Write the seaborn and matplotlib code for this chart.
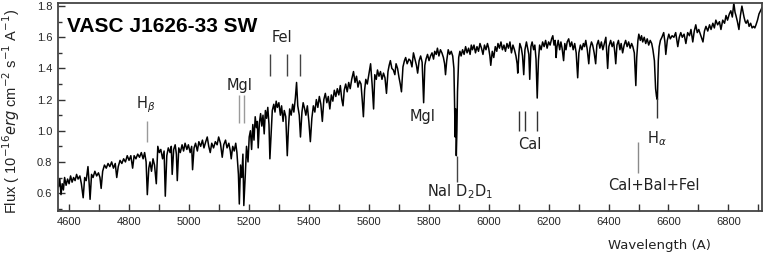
"""Optical spectrum of VASC J1626-33 SW with line identifications."""

import matplotlib

matplotlib.use("Agg")
import matplotlib.pyplot as plt
import matplotlib.ticker as ticker
import pandas as pd
import seaborn as sns

# spectrum (wavelength in Angstrom, flux in 1e-16 erg/cm2/s/A)
wavelength = [
    4565, 4569, 4573, 4577, 4581, 4585, 4590, 4595, 4600, 4605, 4610, 4615, 4620, 4625, 4630, 4636,
    4641, 4647, 4652, 4657, 4663, 4667, 4670, 4675, 4680, 4686, 4692, 4698, 4703, 4707, 4712, 4718,
    4724, 4730, 4736, 4742, 4748, 4754, 4759, 4764, 4770, 4776, 4782, 4788, 4794, 4800, 4806, 4812,
    4817, 4823, 4829, 4835, 4841, 4847, 4852, 4857, 4861, 4866, 4870, 4875, 4880, 4885, 4891, 4896,
    4901, 4906, 4912, 4917, 4921, 4926, 4931, 4937, 4941, 4944, 4949, 4954, 4958, 4961, 4966, 4971,
    4977, 4982, 4987, 4993, 4998, 5004, 5009, 5012, 5017, 5022, 5028, 5033, 5039, 5045, 5050, 5056,
    5061, 5066, 5071, 5076, 5082, 5088, 5094, 5099, 5105, 5111, 5116, 5122, 5127, 5133, 5138, 5141,
    5146, 5151, 5156, 5160, 5165, 5168, 5172, 5176, 5180, 5183, 5188, 5192, 5197, 5201, 5205, 5209,
    5213, 5217, 5221, 5225, 5228, 5231, 5235, 5239, 5243, 5247, 5251, 5255, 5259, 5263, 5267, 5270,
    5274, 5278, 5283, 5287, 5291, 5295, 5300, 5305, 5309, 5314, 5318, 5323, 5328, 5332, 5336, 5341,
    5346, 5350, 5355, 5359, 5363, 5368, 5372, 5377, 5381, 5386, 5390, 5395, 5400, 5405, 5410, 5415,
    5420, 5425, 5430, 5435, 5440, 5445, 5450, 5455, 5460, 5465, 5470, 5475, 5480, 5485, 5490, 5495,
    5500, 5505, 5510, 5514, 5518, 5523, 5528, 5533, 5538, 5543, 5549, 5554, 5559, 5564, 5569, 5574,
    5578, 5582, 5586, 5590, 5595, 5600, 5606, 5611, 5616, 5620, 5625, 5629, 5634, 5639, 5644, 5649,
    5654, 5659, 5664, 5668, 5672, 5677, 5682, 5687, 5691, 5696, 5701, 5705, 5709, 5714, 5719, 5723,
    5728, 5734, 5739, 5744, 5749, 5754, 5759, 5763, 5768, 5773, 5778, 5783, 5787, 5791, 5796, 5801,
    5806, 5811, 5816, 5820, 5825, 5829, 5834, 5839, 5844, 5849, 5853, 5856, 5860, 5865, 5870, 5875,
    5880, 5884, 5886, 5888, 5890, 5892, 5894, 5896, 5900, 5904, 5908, 5913, 5918, 5923, 5928, 5933,
    5938, 5942, 5946, 5951, 5956, 5961, 5966, 5971, 5976, 5981, 5986, 5991, 5996, 6000, 6004, 6007,
    6012, 6017, 6022, 6027, 6031, 6036, 6041, 6046, 6051, 6056, 6061, 6066, 6071, 6076, 6081, 6086,
    6091, 6095, 6097, 6101, 6104, 6109, 6113, 6117, 6121, 6126, 6130, 6134, 6137, 6141, 6145, 6150,
    6154, 6158, 6162, 6166, 6170, 6175, 6180, 6185, 6190, 6195, 6200, 6205, 6210, 6214, 6218, 6222,
    6225, 6228, 6232, 6237, 6241, 6245, 6250, 6254, 6258, 6262, 6267, 6272, 6277, 6282, 6287, 6292,
    6297, 6301, 6306, 6311, 6316, 6320, 6324, 6329, 6334, 6338, 6343, 6347, 6352, 6357, 6361, 6366,
    6371, 6376, 6381, 6386, 6391, 6394, 6397, 6401, 6407, 6412, 6417, 6421, 6424, 6428, 6433, 6438,
    6442, 6447, 6452, 6457, 6462, 6467, 6472, 6477, 6481, 6486, 6489, 6491, 6494, 6498, 6501, 6506,
    6510, 6514, 6519, 6524, 6529, 6534, 6539, 6544, 6548, 6553, 6557, 6560, 6563, 6566, 6569, 6573,
    6578, 6584, 6588, 6591, 6596, 6601, 6606, 6612, 6618, 6624, 6628, 6631, 6636, 6641, 6646, 6652,
    6658, 6664, 6670, 6675, 6681, 6686, 6691, 6696, 6701, 6708, 6715, 6720, 6725, 6731, 6737, 6742,
    6748, 6753, 6758, 6764, 6770, 6775, 6781, 6787, 6792, 6797, 6803, 6808, 6813, 6818, 6822, 6825,
    6830, 6835, 6840, 6845, 6849, 6852, 6856, 6859, 6864, 6869, 6874, 6879, 6884, 6888, 6892, 6897,
    6902, 6907, 6912,
]
flux = [
    0.64, 0.69, 0.59, 0.66, 0.62, 0.70, 0.65, 0.69, 0.66, 0.71, 0.67, 0.70, 0.68, 0.72, 0.69, 0.71,
    0.66, 0.57, 0.70, 0.68, 0.77, 0.66, 0.56, 0.72, 0.70, 0.74, 0.71, 0.73, 0.70, 0.63, 0.74, 0.78,
    0.76, 0.79, 0.77, 0.80, 0.76, 0.79, 0.70, 0.77, 0.81, 0.79, 0.82, 0.80, 0.84, 0.81, 0.84, 0.76,
    0.84, 0.82, 0.85, 0.83, 0.86, 0.82, 0.86, 0.80, 0.59, 0.76, 0.80, 0.74, 0.82, 0.78, 0.66, 0.90,
    0.86, 0.88, 0.82, 0.87, 0.58, 0.84, 0.89, 0.86, 0.90, 0.72, 0.88, 0.91, 0.85, 0.68, 0.89, 0.86,
    0.91, 0.87, 0.92, 0.88, 0.91, 0.86, 0.90, 0.75, 0.89, 0.92, 0.87, 0.93, 0.90, 0.94, 0.89, 0.93,
    0.96, 0.90, 0.86, 0.92, 0.89, 0.93, 0.91, 0.96, 0.92, 0.83, 0.91, 0.94, 0.89, 0.92, 0.87, 0.82,
    0.90, 0.87, 0.92, 0.86, 0.72, 0.53, 0.78, 0.70, 0.85, 0.52, 0.72, 0.90, 0.80, 0.96, 1.00, 0.88,
    1.04, 0.94, 1.09, 1.02, 1.06, 0.89, 1.05, 1.11, 1.03, 1.10, 0.98, 1.13, 1.08, 1.15, 1.04, 0.82,
    0.98, 1.13, 1.17, 1.12, 1.19, 1.15, 1.18, 1.10, 1.16, 1.06, 1.13, 1.09, 0.84, 1.02, 1.14, 1.10,
    1.17, 1.12, 1.21, 1.31, 1.16, 1.10, 0.96, 1.12, 1.18, 1.14, 1.10, 1.16, 1.06, 0.93, 1.08, 1.16,
    1.12, 1.20, 1.15, 1.22, 1.17, 1.06, 1.20, 1.24, 1.18, 1.22, 1.14, 1.23, 1.19, 1.26, 1.22, 1.27,
    1.23, 1.29, 1.20, 1.16, 1.26, 1.30, 1.25, 1.31, 1.27, 1.33, 1.38, 1.31, 1.35, 1.28, 1.32, 1.30,
    1.20, 1.09, 1.26, 1.33, 1.30, 1.36, 1.43, 1.30, 1.14, 1.36, 1.33, 1.39, 1.35, 1.38, 1.33, 1.37,
    1.34, 1.24, 1.38, 1.42, 1.45, 1.40, 1.39, 1.36, 1.43, 1.40, 1.34, 1.30, 1.25, 1.41, 1.45, 1.47,
    1.43, 1.46, 1.45, 1.41, 1.50, 1.46, 1.42, 1.37, 1.45, 1.48, 1.44, 1.18, 1.42, 1.46, 1.49, 1.45,
    1.48, 1.50, 1.46, 1.51, 1.49, 1.53, 1.48, 1.52, 1.50, 1.47, 1.43, 1.36, 1.45, 1.52, 1.49, 1.51,
    1.48, 1.40, 1.20, 0.96, 1.14, 0.84, 1.00, 1.25, 1.47, 1.51, 1.48, 1.52, 1.49, 1.54, 1.50, 1.53,
    1.49, 1.55, 1.52, 1.55, 1.50, 1.54, 1.51, 1.56, 1.53, 1.49, 1.55, 1.52, 1.56, 1.53, 1.48, 1.42,
    1.51, 1.47, 1.54, 1.51, 1.56, 1.53, 1.57, 1.52, 1.55, 1.51, 1.56, 1.53, 1.57, 1.50, 1.55, 1.52,
    1.48, 1.43, 1.37, 1.50, 1.56, 1.53, 1.48, 1.36, 1.52, 1.57, 1.53, 1.49, 1.33, 1.54, 1.57, 1.52,
    1.55, 1.46, 1.21, 1.45, 1.55, 1.52, 1.57, 1.54, 1.58, 1.53, 1.57, 1.55, 1.59, 1.61, 1.55, 1.58,
    1.47, 1.54, 1.58, 1.52, 1.57, 1.53, 1.45, 1.56, 1.52, 1.57, 1.59, 1.54, 1.57, 1.52, 1.56, 1.50,
    1.34, 1.50, 1.55, 1.52, 1.56, 1.54, 1.58, 1.52, 1.43, 1.53, 1.57, 1.55, 1.50, 1.43, 1.55, 1.58,
    1.53, 1.57, 1.52, 1.56, 1.60, 1.50, 1.40, 1.54, 1.58, 1.54, 1.57, 1.50, 1.43, 1.55, 1.58, 1.52,
    1.56, 1.50, 1.55, 1.58, 1.54, 1.57, 1.53, 1.56, 1.54, 1.50, 1.38, 1.29, 1.47, 1.58, 1.62, 1.58,
    1.61, 1.57, 1.60, 1.56, 1.59, 1.55, 1.58, 1.56, 1.52, 1.45, 1.27, 1.22, 1.20, 1.45, 1.54, 1.58,
    1.60, 1.63, 1.57, 1.49, 1.58, 1.62, 1.59, 1.61, 1.60, 1.63, 1.58, 1.54, 1.60, 1.63, 1.60, 1.62,
    1.56, 1.63, 1.61, 1.65, 1.57, 1.64, 1.68, 1.63, 1.65, 1.61, 1.57, 1.64, 1.67, 1.64, 1.68, 1.65,
    1.69, 1.66, 1.71, 1.68, 1.70, 1.65, 1.71, 1.69, 1.74, 1.71, 1.75, 1.77, 1.73, 1.82, 1.76, 1.74,
    1.70, 1.65, 1.74, 1.80, 1.76, 1.73, 1.70, 1.69, 1.71, 1.67, 1.69, 1.66, 1.67, 1.66, 1.68, 1.71,
    1.75, 1.77, 1.79,
]

# line identifications: label text and the wavelengths of their marker ticks
line_labels = ["H$_\\beta$", "MgI", "FeI", "MgI", "NaI D$_2$D$_1$", "CaI", "H$_\\alpha$", "CaI+BaI+FeI"]
line_marks = [[4861], [5167, 5183], [5270, 5328, 5372], [], [5893], [6102, 6122, 6162], [6561], [6497]]

df = pd.DataFrame({"wavelength": wavelength, "flux": flux})

sns.set_style("ticks")
plt.rcParams["font.family"] = ["Liberation Sans", "DejaVu Sans"]

fig = plt.figure(figsize=(7.65, 2.54), dpi=100)
ax = fig.add_axes([58 / 765, 43 / 254, 704 / 765, 208 / 254])

sns.lineplot(data=df, x="wavelength", y="flux", ax=ax, color="black", linewidth=1.1,
             estimator=None, sort=False)

ax.set_xlim(4563, 6912)
ax.set_ylim(0.485, 1.82)

# (label x, label y, tick bottom, tick top, tick colour) for each identification
layout = [
    (4855, 1.17, 0.93, 1.06, "#9a9a9a"),
    (5170, 1.29, 1.05, 1.23, "#9a9a9a"),
    (5310, 1.60, 1.35, 1.49, "#444444"),
    (5780, 1.09, None, None, None),
    (5905, 0.61, 0.67, 0.84, "#444444"),
    (6137, 0.91, 1.00, 1.13, "#333333"),
    (6560, 0.95, 1.08, 1.21, "#333333"),
    (6553, 0.65, 0.73, 0.93, "#8a8a8a"),
]
for text, marks, (lx, ly, y0, y1, col) in zip(line_labels, line_marks, layout):
    ax.text(lx, ly, text, ha="center", va="center", fontsize=10.5, color="#222222",
            family="DejaVu Sans")
    if marks:
        ax.vlines(marks, y0, y1, color=col, linewidth=1.0)

ax.text(0.013, 0.889, "VASC J1626-33 SW", transform=ax.transAxes, ha="left", va="center",
        fontsize=15, fontweight="bold", color="black")

ax.xaxis.set_major_locator(ticker.MultipleLocator(200))
ax.xaxis.set_minor_locator(ticker.MultipleLocator(100))
ax.yaxis.set_major_locator(ticker.MultipleLocator(0.2))
ax.yaxis.set_minor_locator(ticker.MultipleLocator(0.1))
ax.yaxis.set_major_formatter(ticker.FormatStrFormatter("%.1f"))
ax.tick_params(which="both", direction="in", length=5, width=1.0, color="#333333",
               labelsize=8, pad=4)
ax.tick_params(axis="y", which="minor", length=3)

for side in ["left", "bottom", "top", "right"]:
    ax.spines[side].set_visible(True)
    ax.spines[side].set_linewidth(1.3)
    ax.spines[side].set_color("#444444")

ax.set_xlabel("Wavelength (A)", fontsize=9.5, family="DejaVu Sans", color="#222222")
ax.xaxis.set_label_coords(0.855, -0.135)
ax.set_ylabel("")
fig.text(11 / 765, 0.56, "Flux ( 10$^{-16}$$\\it{erg}$ cm$^{-2}$ s$^{-1}$ A$^{-1}$)",
         rotation=90, ha="center", va="center", fontsize=10.5, color="#222222")

fig.savefig("out.png", dpi=100)
